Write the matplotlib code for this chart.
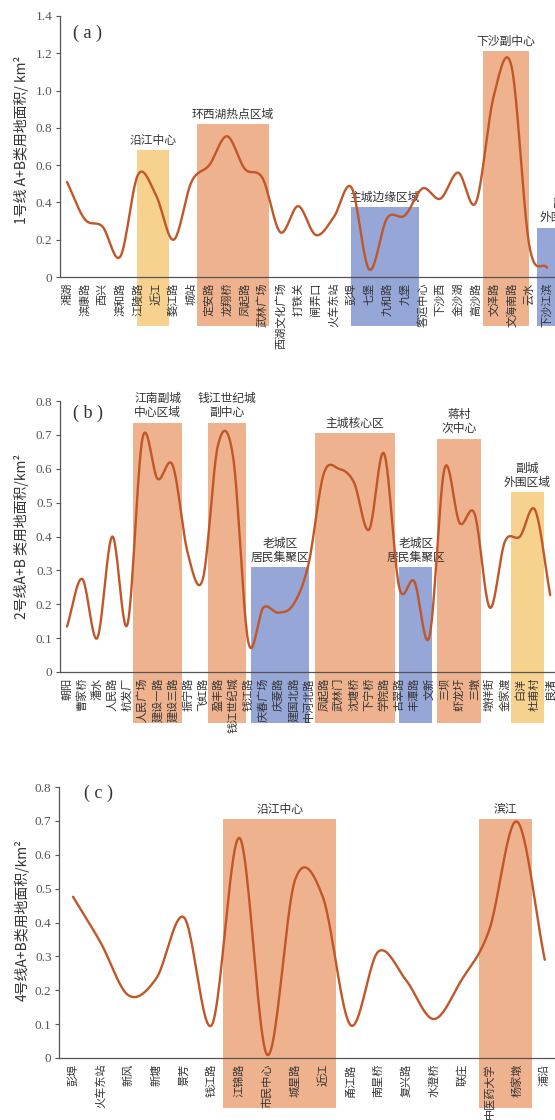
import numpy as np
import matplotlib
matplotlib.use("Agg")
import matplotlib.pyplot as plt
from matplotlib.patches import Rectangle

plt.rcParams['font.family'] = ['Noto Sans CJK SC', 'DejaVu Sans']

# ---- data ----
stations_1 = ['湘湖', '滨康路', '西兴', '滨和路', '江陵路', '近江', '婺江路', '城站',
              '定安路', '龙翔桥', '凤起路', '武林广场', '西湖文化广场', '打铁关', '闸弄口',
              '火车东站', '彭埠', '七堡', '九和路', '九堡', '客运中心', '下沙西', '金沙湖',
              '高沙路', '文泽路', '文海南路', '云水', '下沙江滨']
values_1 = [0.51, 0.31, 0.27, 0.11, 0.55, 0.44, 0.20, 0.51, 0.60, 0.755, 0.58, 0.53,
            0.24, 0.38, 0.225, 0.32, 0.48, 0.04, 0.315, 0.33, 0.475, 0.42, 0.56, 0.40,
            0.97, 1.13, 0.17, 0.05]
regions_1 = [(3.93, 5.71, 0.68, '沿江中心', 'yellow'),
             (7.29, 11.37, 0.82, '环西湖热点区域', 'orange'),
             (16.0, 19.77, 0.375, '主城边缘区域', 'blue'),
             (23.4, 26.0, 1.21, '下沙副中心', 'orange'),
             (26.45, 29.4, 0.265, '副城\n外围区域', 'blue')]

stations_2 = ['朝阳', '曹家桥', '潘水', '人民路', '杭发厂', '人民广场', '建设一路', '建设三路',
              '振宁路', '飞虹路', '盈丰路', '钱江世纪城', '钱江路', '庆春广场', '庆菱路',
              '建国北路', '中河北路', '凤起路', '武林门', '沈塘桥', '下宁桥', '学院路',
              '古翠路', '丰潭路', '文新', '三坝', '虾龙圩', '三墩', '墩祥街', '金家渡',
              '白洋', '杜甫村', '良渚']
values_2 = [0.134, 0.275, 0.10, 0.40, 0.14, 0.69, 0.57, 0.61, 0.35, 0.275, 0.67, 0.635,
            0.09, 0.19, 0.175, 0.20, 0.32, 0.585, 0.60, 0.56, 0.42, 0.645, 0.25, 0.267,
            0.104, 0.60, 0.44, 0.466, 0.19, 0.385, 0.40, 0.478, 0.227]
regions_2 = [(4.39, 7.6, 0.736, '江南副城\n中心区域', 'orange'),
             (9.36, 11.83, 0.736, '钱江世纪城\n副中心', 'orange'),
             (12.17, 16.05, 0.309, '老城区\n居民集聚区', 'blue'),
             (16.42, 21.72, 0.705, '主城核心区', 'orange'),
             (22.0, 24.19, 0.309, '老城区\n居民集聚区', 'blue'),
             (24.52, 27.4, 0.688, '蒋村\n次中心', 'orange'),
             (29.38, 31.59, 0.53, '副城\n外围区域', 'yellow')]

stations_4 = ['彭埠', '火车东站', '新风', '新塘', '景芳', '钱江路', '江锦路', '市民中心',
              '城星路', '近江', '甬江路', '南星桥', '复兴路', '水澄桥', '联庄', '中医药大学',
              '杨家墩', '浦沿']
values_4 = [0.476, 0.34, 0.185, 0.235, 0.415, 0.097, 0.65, 0.009, 0.525, 0.476, 0.097,
            0.314, 0.23, 0.115, 0.23, 0.378, 0.698, 0.29]
regions_4 = [(5.42, 9.47, 0.705, '沿江中心', 'orange'),
             (14.63, 16.55, 0.705, '滨江', 'orange')]

colors = {'orange': '#EFB28F', 'yellow': '#F7D28F', 'blue': '#95A6D7'}
line_color = '#C15728'
axis_color = '#555555'


def smooth(x, y, n=24):
    # Catmull-Rom curve through the station values
    pts = np.column_stack([x, y]).astype(float)
    p = np.vstack([2 * pts[0] - pts[1], pts, 2 * pts[-1] - pts[-2]])
    t = np.linspace(0, 1, n, endpoint=False)[:, None]
    out = []
    for i in range(1, len(p) - 2):
        p0, p1, p2, p3 = p[i - 1], p[i], p[i + 1], p[i + 2]
        seg = 0.5 * (2 * p1 + (-p0 + p2) * t + (2 * p0 - 5 * p1 + 4 * p2 - p3) * t ** 2
                     + (-p0 + 3 * p1 - 3 * p2 + p3) * t ** 3)
        out.append(seg)
    out.append(pts[-1:])
    return np.vstack(out)


W, H = 555, 1120
fig = plt.figure(figsize=(W / 100, H / 100), dpi=100)


def panel(left_px, zero_px, top_px, x0_px, step_px, ymax, ystep, box_bottom,
          stations, values, regions, letter, letter_pos, ylabel, ylabel_y):
    ax = fig.add_axes([left_px / W, (H - zero_px) / H, 1 - left_px / W, (zero_px - top_px) / H])
    ax.patch.set_visible(False)
    n = len(stations)
    idx = np.arange(n)
    ax.set_xlim((left_px - x0_px) / step_px, (W - x0_px) / step_px)
    ax.set_ylim(0, ymax)

    for x1, x2, top, label, kind in regions:
        ax.add_patch(Rectangle((x1, box_bottom), x2 - x1, top - box_bottom,
                               facecolor=colors[kind], edgecolor='none',
                               zorder=0.5, clip_on=False))
        ax.annotate(label, xy=((x1 + x2) / 2, top), xytext=(0, 2.5),
                    textcoords='offset points', ha='center', va='bottom',
                    fontsize=8.5, color='#333333', linespacing=1.1,
                    annotation_clip=False, zorder=3)

    c = smooth(idx, values)
    ax.plot(c[:, 0], c[:, 1], color=line_color, lw=1.7, zorder=4,
            solid_capstyle='round')

    ax.set_xticks(idx)
    ax.set_xticklabels(stations, rotation=90, fontsize=8, color='#333333', va='top')
    ax.tick_params(axis='x', length=0, pad=4)
    yt = np.round(np.arange(0, ymax + 1e-9, ystep), 1)
    ax.set_yticks(yt)
    ax.set_yticklabels(['0'] + ['%.1f' % v for v in yt[1:]],
                       family='Liberation Serif', fontsize=9.5, color='#555555')
    ax.tick_params(axis='y', length=3, width=0.8, color=axis_color, pad=2)
    for s in ['top', 'right']:
        ax.spines[s].set_visible(False)
    for s in ['left', 'bottom']:
        ax.spines[s].set_color(axis_color)
        ax.spines[s].set_linewidth(0.9)
        ax.spines[s].set_zorder(3)

    ax.text(letter_pos[0], letter_pos[1], letter, transform=ax.transAxes,
            family='Liberation Serif', fontsize=13, color='#333333',
            ha='center', va='center')
    fig.text(22 / W, (H - ylabel_y) / H, ylabel, rotation=90, ha='center',
             va='center', fontsize=10, color='#333333')
    return ax


panel(59.5, 277, 16, 67, 17.78, 1.4, 0.2, -0.263, stations_1, values_1, regions_1,
      '( a )', (0.0555, 0.935), '1号线 A+B类用地面积/ km²', 140)
panel(59.5, 672, 401, 67, 15.1, 0.8, 0.1, -0.15, stations_2, values_2, regions_2,
      '( b )', (0.0575, 0.956), '2号线A+B 类用地面积/km²', 536)
panel(58.5, 1058, 787, 73, 27.75, 0.8, 0.1, -0.149, stations_4, values_4, regions_4,
      '( c )', (0.0796, 0.978), '4号线A+B类用地面积/km²', 920)

fig.savefig('out.png', dpi=100, facecolor='white')
